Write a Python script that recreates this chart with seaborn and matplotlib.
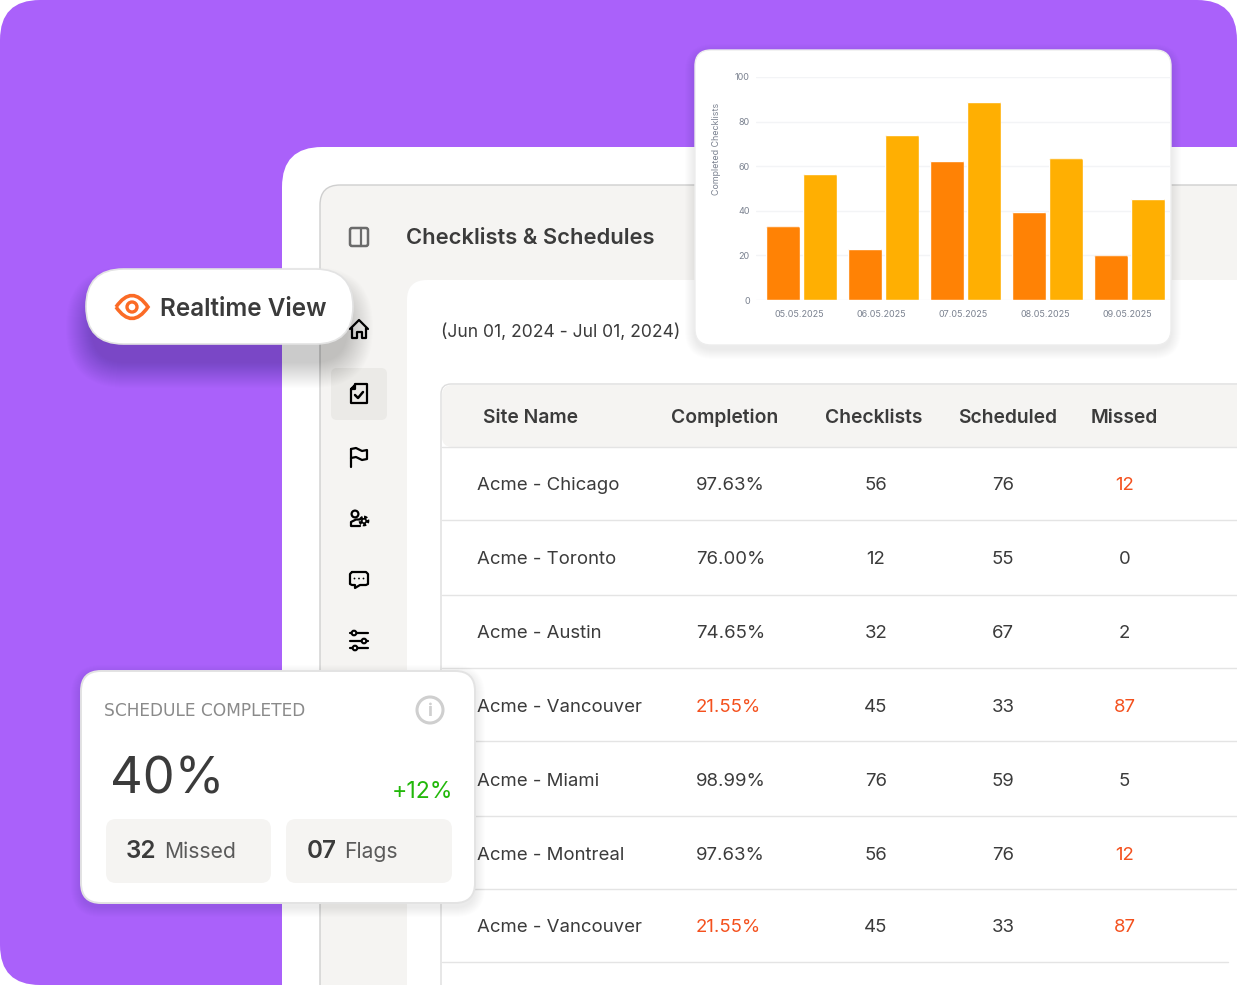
import matplotlib
matplotlib.use("Agg")
import matplotlib.pyplot as plt
import pandas as pd
import seaborn as sns
from matplotlib.patches import FancyBboxPatch, Circle, PathPatch
from matplotlib.path import Path
from matplotlib.transforms import IdentityTransform, ScaledTranslation

sns.set_theme(style="white")
plt.rcParams['font.family'] = ['Inter', 'DejaVu Sans']

# bar chart values
dates = ['05.05.2025', '06.05.2025', '07.05.2025', '08.05.2025', '09.05.2025']
first_series = [33, 23, 62.5, 39.5, 20]
second_series = [56.5, 74, 89, 63.5, 45.5]
y_ticks = [0, 20, 40, 60, 80, 100]

# table values
headers = ['Site Name', 'Completion', 'Checklists', 'Scheduled', 'Missed']
sites = ['Acme - Chicago', 'Acme - Toronto', 'Acme - Austin', 'Acme - Vancouver',
         'Acme - Miami', 'Acme - Montreal', 'Acme - Vancouver']
completion = ['97.63%', '76.00%', '74.65%', '21.55%', '98.99%', '97.63%', '21.55%']
checklists = [56, 12, 32, 45, 76, 56, 45]
scheduled = [76, 55, 67, 33, 59, 76, 33]
missed = [12, 0, 2, 87, 5, 12, 87]
low_completion = ['21.55%']

PURPLE = '#AA61FA'
GREY_BG = '#F5F4F2'
DARK = '#3B3B3B'
RED = '#F4511E'
ORANGE = '#FF8205'
AMBER = '#FFAF02'

W, H = 1237, 985
fig = plt.figure(figsize=(W / 100, H / 100), dpi=100, facecolor='white')
bg = fig.add_axes([0, 0, 1, 1])
bg.set_xlim(0, W)
bg.set_ylim(H, 0)
bg.axis('off')


def box(x0, y0, x1, y1, r, fc, ec='none', lw=0, z=1, alpha=None):
    p = FancyBboxPatch((x0, y0), x1 - x0, y1 - y0, boxstyle=f'round,pad=0,rounding_size={r}',
                       fc=fc, ec=ec, lw=lw, zorder=z, alpha=alpha)
    bg.add_patch(p)
    return p


def shadow(x0, y0, x1, y1, r, dy, z, spread=26, alpha=0.012):
    # fake blur with stacked transparent boxes
    for i in range(spread):
        g = spread - i
        box(x0 - g, y0 - g + dy, x1 + g, y1 + g + dy, r + g, 'black', z=z, alpha=alpha)


def stroke(xs, ys, color='black', lw=1.6, z=20):
    bg.plot(xs, ys, color=color, lw=lw, zorder=z, solid_capstyle='round', solid_joinstyle='round')


# background and app frame
box(0, 0, W, H, 40, PURPLE, z=0)
box(282, 147, 1500, 1300, 40, 'white', z=1)
box(320, 185, 1500, 1300, 20, GREY_BG, ec='#CFCFCF', lw=1, z=2)
box(407, 280, 1500, 1300, 20, 'white', z=3)
box(441, 384, 1500, 1300, 10, 'white', ec='#DDDDDD', lw=1, z=4)
box(442, 385, 1500, 447, 10, GREY_BG, z=4)
bg.plot([442, W], [447, 447], color='#E4E4E4', lw=1, zorder=5)

bg.text(406, 238.5, 'Checklists & Schedules', fontsize=15.8, fontweight='semibold', color=DARK,
        va='center', zorder=6)
bg.text(441, 332.5, '(Jun 01, 2024 - Jul 01, 2024)', fontsize=12.6, color=DARK, va='center', zorder=6)

# table
header_x = [483, 671, 825, 958, 1091]
for hx, hd in zip(header_x, headers):
    bg.text(hx, 418, hd, fontsize=13.9, fontweight='semibold', color=DARK, va='center', zorder=6)

row_y = [486, 560, 634, 707, 781, 855, 928]
line_y = [520, 595, 668, 741, 816, 889, 962]
for i, ry in enumerate(row_y):
    bg.text(477, ry, sites[i], fontsize=13.4, color=DARK, va='center', zorder=6)
    bg.text(696, ry, completion[i], fontsize=13.4, va='center', zorder=6,
            color=RED if completion[i] in low_completion else DARK)
    bg.text(876, ry, str(checklists[i]), fontsize=13.4, color=DARK, va='center', ha='center', zorder=6)
    bg.text(1003, ry, str(scheduled[i]), fontsize=13.4, color=DARK, va='center', ha='center', zorder=6)
    bg.text(1124.5, ry, str(missed[i]), fontsize=13.4, va='center', ha='center', zorder=6,
            color=RED if missed[i] >= 12 else DARK)
    bg.plot([442, 1228 if i == 6 else W], [line_y[i], line_y[i]], color='#E4E4E4', lw=1, zorder=5)

# sidebar icons
box(331, 368, 387, 420, 6, '#EBEAE7', z=5)
c = '#6B6B6B'
box(350, 228, 368, 246, 2, 'none', ec=c, lw=1.8, z=20)
stroke([361, 361], [228, 246], c)
# home
stroke([350, 359, 368], [329, 320, 329])
stroke([352, 352, 356.5, 356.5, 361.5, 361.5, 366, 366], [328, 338, 338, 332, 332, 338, 338, 328])
# checklist doc
stroke([355, 351, 351, 367, 367, 355, 355, 351], [385, 389, 403, 403, 384, 384, 389, 389])
stroke([355, 358, 363], [395, 398, 392], lw=1.8)
# flag
stroke([351, 351], [467, 449])
stroke([351, 356, 362, 367, 367, 362, 356, 351], [449, 448, 451, 450, 459, 460, 457, 458])
# user with gear
bg.add_patch(Circle((355, 514), 3.4, fc='none', ec='black', lw=1.6, zorder=20))
stroke([360, 356, 351, 351, 360], [519.5, 519.5, 522, 526, 526])
bg.add_patch(Circle((364, 521), 3.8, fc='none', ec='black', lw=2.2, ls=(0, (1, 0.6)), zorder=20))
bg.add_patch(Circle((364, 521), 2.2, fc='none', ec='black', lw=1.2, zorder=20))
# chat
stroke([352, 366, 368, 368, 366, 360, 355, 355, 352, 350, 350, 352],
       [572, 572, 574, 584, 585, 585, 588, 585, 585, 584, 574, 572])
for dx in [354.5, 359, 363.5]:
    bg.add_patch(Circle((dx, 578.5), 0.9, fc='black', ec='none', zorder=20))
# sliders
for sy, sx in zip([633, 641, 648], [354, 364, 355]):
    stroke([350, 368], [sy, sy])
    bg.add_patch(Circle((sx, sy), 2.3, fc=GREY_BG, ec='black', lw=1.5, zorder=21))

# realtime pill
shadow(92, 275, 347, 344, 34, 18, 7, spread=26, alpha=0.009)
box(86, 269, 353, 344, 37.5, 'white', ec='#E3E3E3', lw=1.2, z=8)
eye = Path([(116, 307), (132, 284), (148, 307), (132, 330), (116, 307)],
           [Path.MOVETO, Path.CURVE3, Path.CURVE3, Path.CURVE3, Path.CURVE3])
bg.add_patch(PathPatch(eye, fc='none', ec='#FB6B26', lw=2.6, zorder=9))
bg.add_patch(Circle((132, 307), 5, fc='none', ec='#FB6B26', lw=2.4, zorder=9))
bg.text(160, 309.5, 'Realtime View', fontsize=17.5, fontweight='semibold', color=DARK, va='center', zorder=9)

# schedule card
shadow(81, 671, 475, 903, 20, 4, 7, spread=10, alpha=0.006)
box(81, 671, 475, 903, 20, 'white', ec='#E3E3E3', lw=1.4, z=8)
bg.text(104, 711, 'SCHEDULE COMPLETED', fontsize=12.25, color='#8A8A8A', va='center', family='DejaVu Sans', zorder=9)
bg.add_patch(Circle((430, 710), 13, fc='none', ec='#CFCFCF', lw=2.2, zorder=9))
bg.text(430, 711, 'i', fontsize=13, fontweight='bold', color='#CFCFCF', va='center', ha='center', zorder=9)
bg.text(110, 780, '40%', fontsize=36.5, color=DARK, va='center', zorder=9)
bg.text(453.5, 792, '+12%', fontsize=16.6, color='#22B80A', va='center', ha='right', zorder=9)
box(106, 819, 271, 883, 10, GREY_BG, z=9)
box(286, 819, 452, 883, 10, GREY_BG, z=9)
bg.text(126, 852, '32', fontsize=17.5, fontweight='semibold', color=DARK, va='center', zorder=10)
bg.text(164, 852.5, 'Missed', fontsize=15.2, color='#5A5A5A', va='center', zorder=10)
bg.text(307, 852, '07', fontsize=17.5, fontweight='semibold', color=DARK, va='center', zorder=10)
bg.text(344, 852.5, 'Flags', fontsize=15.2, color='#5A5A5A', va='center', zorder=10)

# chart card
shadow(695, 50, 1171, 345, 18, 4, 7, spread=10, alpha=0.006)
box(695, 50, 1171, 345, 16, 'white', ec='#EDEDED', lw=1, z=8)

ax_left, ax_right, ax_top, ax_bottom = 756, 1171, 77, 300
ax = fig.add_axes([ax_left / W, 1 - ax_bottom / H, (ax_right - ax_left) / W, (ax_bottom - ax_top) / H],
                  zorder=5, facecolor='none')
df = pd.DataFrame({
    'date': dates * 2,
    'value': first_series + second_series,
    'series': ['first'] * len(dates) + ['second'] * len(dates),
})
sns.barplot(data=df, x='date', y='value', hue='series', palette=[ORANGE, AMBER], width=0.902, gap=0.081,
            saturation=1, legend=False, ax=ax, zorder=3)
ax.set_xlim(-0.555, 4.506)
ax.set_ylim(0, 100)
ax.set_yticks(y_ticks)
ax.grid(axis='y', color='#F3F4F6', lw=1)
ax.set_axisbelow(True)
sns.despine(ax=ax, left=True, bottom=True, right=True, top=True)
ax.tick_params(axis='both', length=0, labelsize=6.5, labelcolor='#7B8290')
ax.tick_params(axis='y', pad=4.5)
ax.tick_params(axis='x', pad=7)
for lab in ax.get_xticklabels():
    # date labels sit slightly left of the bar groups
    lab.set_transform(lab.get_transform() + ScaledTranslation(-2.5 / 100, 0, fig.dpi_scale_trans))
ax.set_xlabel('')
ax.set_ylabel('Completed Checklists', fontsize=6.4, color='#7B8290')
ax.yaxis.set_label_coords((721 - ax_left) / (ax_right - ax_left), (ax_bottom - 149) / (ax_bottom - ax_top))

# small rounding on bar tops
fig.canvas.draw()
for bar in ax.patches:
    ext = bar.get_window_extent()
    clip = FancyBboxPatch((ext.x0, ext.y0 - 6), ext.width, ext.height + 6, boxstyle='round,pad=0,rounding_size=2.5',
                          transform=IdentityTransform())
    bar.set_clip_path(clip)

plt.savefig('out.png', dpi=100)
